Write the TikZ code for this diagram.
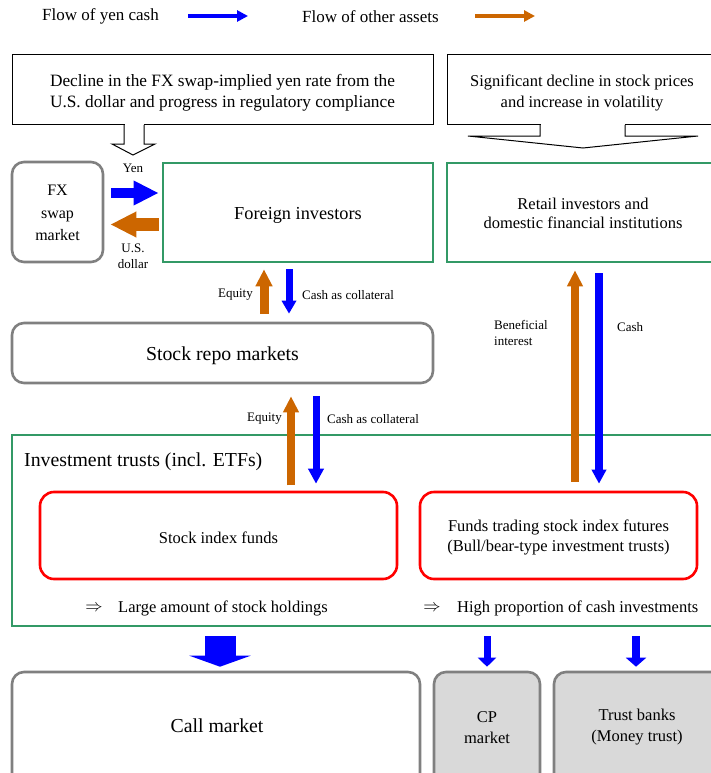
\documentclass[tikz,border=0pt]{standalone}
\usepackage{fontspec}
\setmainfont{Liberation Serif}
\usetikzlibrary{arrows.meta}
\definecolor{cblue}{RGB}{0,0,255}
\definecolor{corange}{RGB}{204,102,0}
\definecolor{cgreen}{RGB}{51,153,102}
\definecolor{cred}{RGB}{255,0,0}
\definecolor{cgrayb}{RGB}{128,128,128}
\definecolor{cgrayf}{RGB}{217,217,217}
\begin{document}
\begin{tikzpicture}[x=1pt,y=-1pt,
  fmain/.style={font=\fontsize{17}{21}\selectfont},
  fbig/.style={font=\fontsize{19.8}{23}\selectfont},
  fmid/.style={font=\fontsize{16.5}{19.5}\selectfont},
  fsmall/.style={font=\fontsize{13}{16}\selectfont},
  blackbox/.style={draw=black, line width=1pt, inner sep=0pt, align=center},
  greenbox/.style={draw=cgreen, line width=2.6pt, inner sep=0pt, align=center},
  redbox/.style={draw=cred, line width=2.6pt, rounded corners=14pt, inner sep=0pt, align=center},
  graybox/.style={draw=cgrayb, line width=2.6pt, rounded corners=12pt, inner sep=0pt, align=center},
  txt/.style={inner sep=0pt, align=center},
  callout/.style={draw=black, line width=1pt, line join=miter},
]
\useasboundingbox (0,0) rectangle (710,773);

% legend
\node[fmain, txt, anchor=west] (lg1) at (42,16.5) {Flow of yen cash};
\coordinate (lg1a) at (188,16);
\coordinate (lg1b) at (248,16);
\draw[cblue, line width=4pt, -{Triangle[length=11pt,width=11pt]}] (lg1a) -- (lg1b);
\node[fmain, txt, anchor=west] (lg2) at (302,16.5) {Flow of other assets};
\coordinate (lg2a) at (475,16);
\coordinate (lg2b) at (535,16);
\draw[corange, line width=4pt, -{Triangle[length=11pt,width=11pt]}] (lg2a) -- (lg2b);

% top boxes
\node[blackbox, minimum width=421pt, minimum height=70pt] (b1) at (222.5,90) {};
\node[txt, font=\fontsize{17.3}{21}\selectfont] (b1t) at (222.5,92.5)
  {Decline in the FX swap-implied yen rate from the\\U.S. dollar and progress in regulatory compliance};
\node[blackbox, minimum width=283pt, minimum height=70pt] (b2) at (588.5,90) {};
\node[txt, font=\fontsize{16.5}{21}\selectfont] (b2t) at (582,93) {Significant decline in stock prices\\and increase in volatility};

\fill[white] (124.5,124.4) -- (124.5,144) -- (143.5,144) -- (143.5,124.4) -- cycle;
\draw[callout] (124,125) -- (124,144) -- (112,144) -- (133,155) -- (155,144) -- (144,144) -- (144,125);
\fill[white] (540.5,124.4) -- (540.5,136) -- (624.5,136) -- (624.5,124.4) -- cycle;
\draw[callout] (540,125) -- (540,136) -- (468,136) -- (583,148) -- (698,136) -- (625,136) -- (625,125);

% second row
\node[graybox, minimum width=91pt, minimum height=100pt] (fx) at (57.5,212) {};
\node[txt, font=\fontsize{16}{22.5}\selectfont] (fxt) at (57.5,213) {FX\\swap\\market};
\node[greenbox, minimum width=270pt, minimum height=99pt] (fi) at (298,212.5) {};
\node[txt, font=\fontsize{18.3}{21}\selectfont] (fit) at (298,215) {Foreign investors};
\node[greenbox, minimum width=283pt, minimum height=99pt] (ri) at (588.5,212.5) {};
\node[fmid, txt] (rit) at (583,213.5) {Retail investors and\\domestic financial institutions};

\node[fsmall, txt] (yen) at (133,168.5) {Yen};
\node[fsmall, txt] (usd) at (133,256.5) {U.S.\\dollar};
\draw[cblue, line width=10pt, -{Triangle[length=25pt,width=23pt]}]
  ([xshift=7pt,yshift=19pt]fx.east) -- ([xshift=-3pt,yshift=19.5pt]fi.west);
\draw[corange, line width=13pt, -{Triangle[length=26pt,width=24pt]}]
  ([xshift=-3pt,yshift=-12pt]fi.west) -- ([xshift=6pt,yshift=-12.5pt]fx.east);

% repo
\node[graybox, minimum width=421pt, minimum height=60pt] (repo) at (222.5,353) {};
\node[txt, fbig] (repot) at (222.5,355.5) {Stock repo markets};

\draw[corange, line width=9pt, -{Triangle[length=17pt,width=16pt]}]
  ([xshift=41.5pt,yshift=8pt]repo.north) -- ([xshift=-34pt,yshift=-6pt]fi.south);
\draw[cblue, line width=7pt, -{Triangle[length=13pt,width=14pt]}]
  ([xshift=-9pt,yshift=-6pt]fi.south) -- ([xshift=66.5pt,yshift=8pt]repo.north);
\node[fsmall, txt, anchor=east] (eq1) at (253,295) {Equity};
\node[fsmall, txt, anchor=west] (cc1) at (302,295) {Cash as collateral};

% investment trusts
\node[greenbox, minimum width=718pt, minimum height=191pt] (it) at (371,530.5) {};
\node[txt, fbig, anchor=west] (itt) at (24,462) {Investment trusts (incl. ETFs)};
\node[redbox, minimum width=357pt, minimum height=87pt] (sif) at (218.5,535.5) {};
\node[txt, fmid] (sift) at (218.5,537.5) {Stock index funds};
\node[redbox, minimum width=277pt, minimum height=87pt] (fut) at (558.5,535.5) {};
\node[txt, fmid] (futt) at (558.5,537.5)
  {Funds trading stock index futures\\(Bull/bear-type investment trusts)};

\draw[corange, line width=8pt, -{Triangle[length=16pt,width=15pt]}]
  ([xshift=68.5pt,yshift=-101pt]repo.south) -- ([xshift=68.5pt,yshift=-12pt]repo.south);
\draw[cblue, line width=7pt, -{Triangle[length=15pt,width=15pt]}]
  ([xshift=93.5pt,yshift=-12pt]repo.south) -- ([xshift=97.5pt,yshift=7pt]sif.north);
\node[fsmall, txt, anchor=east] (eq2) at (282,419) {Equity};
\node[fsmall, txt, anchor=west] (cc2) at (327,419) {Cash as collateral};

\draw[corange, line width=8pt, -{Triangle[length=16pt,width=15pt]}]
  ([xshift=16.5pt,yshift=9pt]fut.north) -- ([xshift=-13.5pt,yshift=-7pt]ri.south);
\draw[cblue, line width=8pt, -{Triangle[length=14pt,width=14pt]}]
  ([xshift=10.5pt,yshift=-10pt]ri.south) -- ([xshift=40.5pt,yshift=7pt]fut.north);
\node[fsmall, txt, anchor=west, align=left] (bi) at (494,333) {Beneficial\\interest};
\node[fsmall, txt, anchor=west] (cash) at (617,327) {Cash};

\node[txt, fmid, anchor=center] (ar1) at (94,608) {$\Rightarrow$};
\node[txt, fmid, anchor=west] (lh) at (118,608) {Large amount of stock holdings};
\node[txt, fmid, anchor=center] (ar2) at (432,608) {$\Rightarrow$};
\node[txt, fmid, anchor=west] (hp) at (457,608) {High proportion of cash investments};

% bottom
\node[graybox, minimum width=408pt, minimum height=118pt] (call) at (216,731) {};
\node[txt, fbig] (callt) at (217,726) {Call market};
\node[graybox, fill=cgrayf, minimum width=106pt, minimum height=118pt] (cp) at (487,731) {};
\node[txt, font=\fontsize{16.5}{21}\selectfont] (cpt) at (487,727.5) {CP\\market};
\node[graybox, fill=cgrayf, minimum width=176pt, minimum height=118pt] (tb) at (642,731) {};
\node[txt, font=\fontsize{16.5}{21}\selectfont] (tbt) at (637,727.5) {Trust banks\\(Money trust)};

\draw[cblue, line width=31pt, -{Triangle[length=11pt,width=61pt]}]
  ([xshift=-151pt,yshift=-9pt]it.south) -- ([xshift=4pt,yshift=4pt]call.north);
\draw[cblue, line width=7pt, -{Triangle[length=9pt,width=18pt]}]
  ([xshift=116pt,yshift=-9pt]it.south) -- ([yshift=4pt]cp.north);
\draw[cblue, line width=8pt, -{Triangle[length=9pt,width=20pt]}]
  ([xshift=265pt,yshift=-9pt]it.south) -- ([xshift=-6pt,yshift=4pt]tb.north);
\end{tikzpicture}
\end{document}
